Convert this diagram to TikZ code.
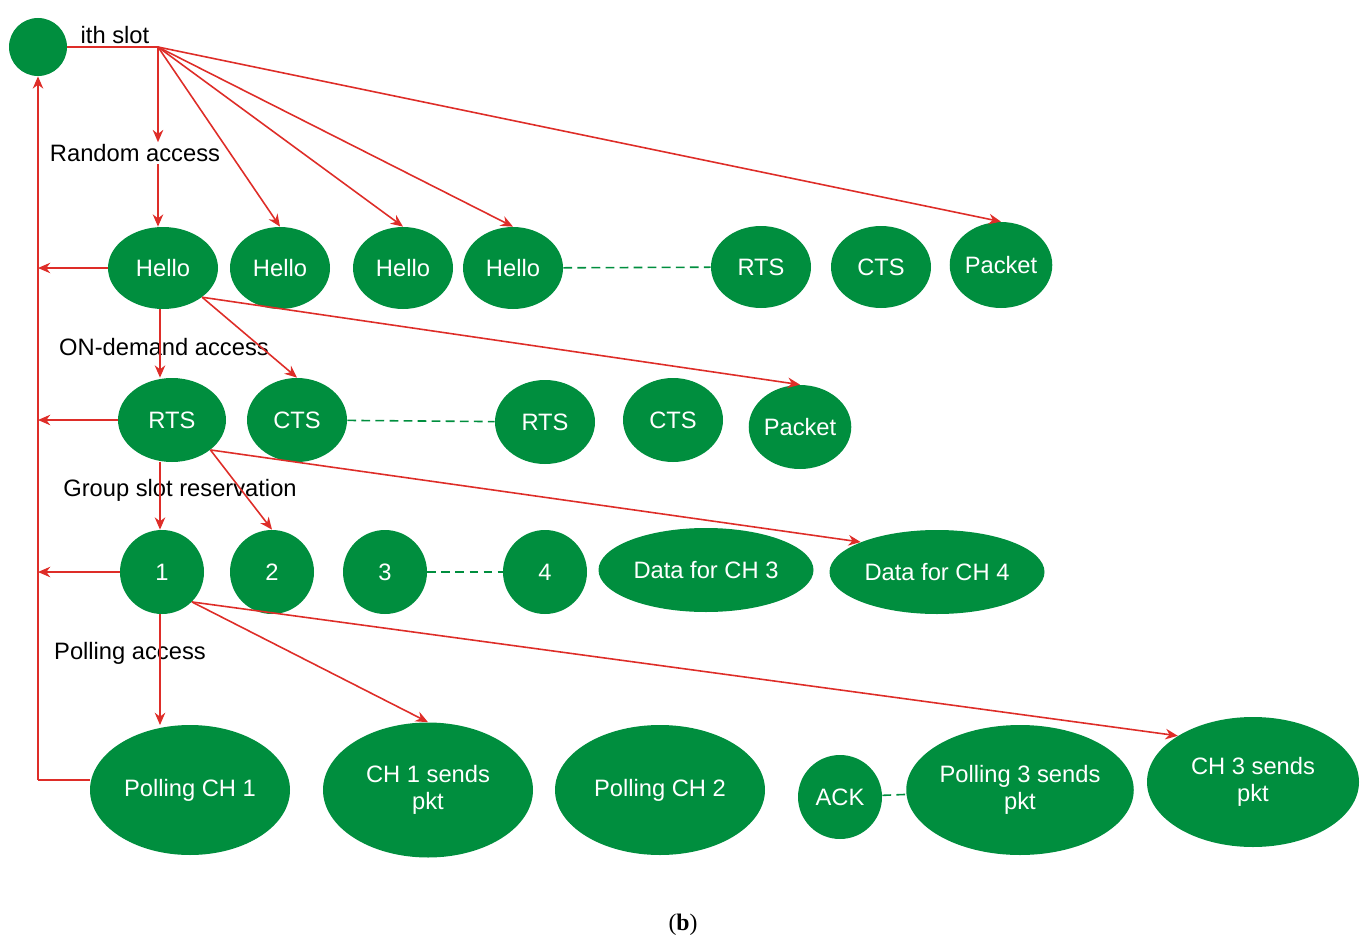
\documentclass[tikz,border=0pt]{standalone}
\usepackage{fontspec}
\setmainfont{Liberation Sans}
\newfontfamily\seriff{Liberation Serif}
\usetikzlibrary{arrows.meta,shapes.geometric}
\definecolor{gr}{RGB}{0,142,62}
\definecolor{rd}{RGB}{222,45,40}
\begin{document}
\begin{tikzpicture}[x=0.02cm,y=-0.02cm,
  el/.style={ellipse,fill=gr,text=white,inner sep=0pt,align=center,font=\fontsize{13.5}{15}\selectfont},
  lab/.style={font=\fontsize{13.5}{15}\selectfont,inner sep=1pt},
  arr/.style={draw=rd,line width=0.9pt,-{Stealth[length=7pt,width=6pt]}},
  ln/.style={draw=rd,line width=0.9pt},
  dsh/.style={draw=gr,line width=0.9pt,dashed,dash pattern=on 5pt off 3pt}]
\useasboundingbox (0,0) rectangle (1366,946);
\node[circle,fill=gr,minimum size=58*0.02cm,inner sep=0] (start) at (38,47) {};
\node[lab] (ith) at (115,35) {ith slot};
\coordinate (hub) at (158,47);
\draw[ln] (start.east) -- (hub);
% row 1
\node[el,minimum width=110*0.02cm,minimum height=82*0.02cm] (h1) at (163,268) {Hello};
\node[el,minimum width=100*0.02cm,minimum height=82*0.02cm] (h2) at (280,268) {Hello};
\node[el,minimum width=100*0.02cm,minimum height=82*0.02cm] (h3) at (403,268) {Hello};
\node[el,minimum width=100*0.02cm,minimum height=82*0.02cm] (h4) at (513,268) {Hello};
\node[el,minimum width=100*0.02cm,minimum height=82*0.02cm] (r1) at (761,267) {RTS};
\node[el,minimum width=100*0.02cm,minimum height=82*0.02cm] (c1) at (881,267) {CTS};
\node[el,minimum width=100*0.02cm,minimum height=86*0.02cm] (p1) at (1001,265) {Packet};
\draw[dsh] (h4) -- (r1);
\node[lab] (lab1) at (135,153) {Random access};
\draw[arr] (hub) -- (lab1.north -| hub);
\draw[arr] (lab1.south -| hub) -- (h1.north -| hub);
\draw[arr] (hub) -- (h2.north);
\draw[arr] (hub) -- (h3.north);
\draw[arr] (hub) -- (h4.north);
\draw[arr] (hub) -- (p1.north);
% row 2
\node[el,minimum width=108*0.02cm,minimum height=84*0.02cm] (rr1) at (172,420) {RTS};
\node[el,minimum width=100*0.02cm,minimum height=84*0.02cm] (cc1) at (297,420) {CTS};
\node[el,minimum width=100*0.02cm,minimum height=84*0.02cm] (rr2) at (545,422) {RTS};
\node[el,minimum width=100*0.02cm,minimum height=84*0.02cm] (cc2) at (673,420) {CTS};
\node[el,minimum width=100*0.02cm,minimum height=84*0.02cm] (pp2) at (800,427) {Packet};
\draw[dsh] (cc1) -- (rr2);
\node[lab] (lab2) at (164,347) {ON-demand access};
\coordinate (v2) at (160,309);
\draw[arr] (v2) -- (rr1.north -| v2);
\draw[arr] (h1.south east) -- (cc1.north);
\draw[arr] (h1.south east) -- (pp2.north);
% row 3
\node[el,circle,minimum size=84*0.02cm] (n1) at (162,572) {1};
\node[el,circle,minimum size=84*0.02cm] (n2) at (272,572) {2};
\node[el,circle,minimum size=84*0.02cm] (n3) at (385,572) {3};
\node[el,circle,minimum size=84*0.02cm] (n4) at (545,572) {4};
\node[el,minimum width=215*0.02cm,minimum height=84*0.02cm] (d3) at (706,570) {Data for CH 3};
\node[el,minimum width=215*0.02cm,minimum height=84*0.02cm] (d4) at (937,572) {Data for CH 4};
\draw[dsh] (n3) -- (n4);
\node[lab] (lab3) at (180,490) {Group slot reservation};
\coordinate (v3) at (160,462);
\draw[arr] (v3) -- (n1.north -| v3);
\draw[arr] (rr1.south east) -- (n2.north);
\draw[arr] (rr1.south east) -- (d4.north west);
% row 4
\node[el,minimum width=200*0.02cm,minimum height=130*0.02cm] (q1) at (190,790) {Polling CH 1};
\node[el,minimum width=210*0.02cm,minimum height=135*0.02cm] (q2) at (428,790) {CH 1 sends\\pkt};
\node[el,minimum width=210*0.02cm,minimum height=130*0.02cm] (q3) at (660,790) {Polling CH 2};
\node[el,circle,minimum size=84*0.02cm] (ack) at (840,797) {ACK};
\node[el,minimum width=210*0.02cm,minimum height=130*0.02cm] (q5) at (1020,790) {Polling 3 sends\\pkt};
\node[el,minimum width=212*0.02cm,minimum height=130*0.02cm] (q6) at (1253,782) {CH 3 sends\\pkt};
\draw[dsh] (ack) -- (q5);
\node[lab] (lab4) at (130,653) {Polling access};
\coordinate (v4) at (160,614);
\draw[arr] (v4) -- (160,725);
\draw[arr] (n1.south east) -- (q2.north);
\draw[arr] (n1.south east) -- (q6.north west);
% feedback
\coordinate (b4) at (38,780);
\draw[arr] (b4) -- (start);
\draw[arr] (h1.west) -- (h1.west -| b4);
\draw[arr] (rr1.west) -- (rr1.west -| b4);
\draw[arr] (n1.west) -- (n1.west -| b4);
\draw[ln] (q1.west |- b4) -- (b4);
\node[font=\seriff\fontsize{13.5}{15}\selectfont] (cap) at (683,925) {(\textbf{b})};
\end{tikzpicture}
\end{document}
